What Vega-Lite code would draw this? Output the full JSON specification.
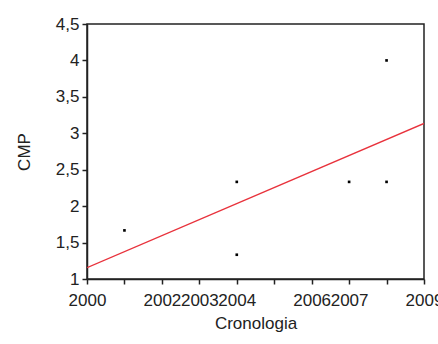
{
  "$schema": "https://vega.github.io/schema/vega-lite/v6.json",
  "autosize": "none",
  "width": 337,
  "height": 255,
  "padding": {"left": 87, "top": 24, "right": 14, "bottom": 65},
  "background": "white",
  "config": {
    "font": "Liberation Sans",
    "view": {"stroke": "#222", "strokeWidth": 1.5},
    "axis": {
      "grid": false,
      "domainColor": "#222",
      "domainWidth": 1.5,
      "tickColor": "#222",
      "tickWidth": 1.5,
      "tickSize": 5,
      "labelColor": "#222",
      "labelFontSize": 17,
      "labelFont": "Liberation Sans",
      "titleFont": "Liberation Sans",
      "titleFontSize": 17,
      "titleFontWeight": "normal",
      "titleColor": "#222",
      "labelOverlap": false,
      "labelFlush": false
    }
  },
  "datasets": {
    "pts": [
      {"year": 2001, "cmp": 1.667},
      {"year": 2004, "cmp": 2.333},
      {"year": 2004, "cmp": 1.333},
      {"year": 2007, "cmp": 2.333},
      {"year": 2008, "cmp": 4.0},
      {"year": 2008, "cmp": 2.333}
    ],
    "fit": [
      {"year": 2000, "cmp": 1.155},
      {"year": 2009, "cmp": 3.135}
    ]
  },
  "encoding": {
    "x": {
      "field": "year",
      "type": "quantitative",
      "scale": {"domain": [2000, 2009], "nice": false, "zero": false},
      "axis": {
        "title": "Cronologia",
        "values": [2000, 2001, 2002, 2003, 2004, 2005, 2006, 2007, 2008, 2009],
        "labelExpr": "indexof([2000, 2002, 2003, 2004, 2006, 2007, 2009], datum.value) >= 0 ? toString(datum.value) : ''",
        "labelOverlap": false,
        "labelPadding": 8,
        "titlePadding": 7
      }
    },
    "y": {
      "field": "cmp",
      "type": "quantitative",
      "scale": {"domain": [1, 4.5], "nice": false, "zero": false},
      "axis": {
        "title": "CMP",
        "values": [1, 1.5, 2, 2.5, 3, 3.5, 4, 4.5],
        "labelExpr": "replace(toString(datum.value), '.', ',')",
        "labelOverlap": false,
        "labelPadding": 3,
        "titleX": -54
      }
    }
  },
  "layer": [
    {
      "data": {"name": "fit"},
      "mark": {"type": "line", "color": "#e8323c", "strokeWidth": 1.3, "clip": true}
    },
    {
      "data": {"name": "pts"},
      "mark": {"type": "square", "color": "#000", "size": 7, "opacity": 1}
    }
  ]
}
